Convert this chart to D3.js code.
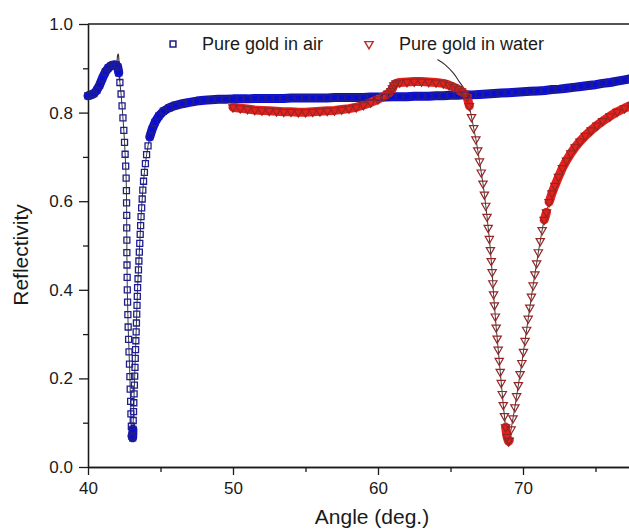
<html>
<head>
<meta charset="utf-8">
<script src="https://d3js.org/d3.v7.min.js"></script>
<style>
  body { margin: 0; background: #fff; }
  text { font-family: "Liberation Sans", Arial, sans-serif; fill: #1a1a1a; }
</style>
</head>
<body>
<script>
// reflectivity vs angle
const airData = [
  [40.0,0.838],[40.2,0.840],[40.4,0.843],[40.6,0.850],[40.8,0.862],[41.0,0.878],[41.2,0.892],
  [41.4,0.901],[41.6,0.906],[41.8,0.908],[41.95,0.907],[42.05,0.903],
  [42.12,0.890],[42.20,0.868],[42.28,0.842],[42.35,0.815],[42.41,0.788],[42.47,0.760],[42.52,0.733],
  [42.56,0.706],[42.60,0.679],[42.63,0.652],[42.65,0.624],[42.66,0.596],[42.67,0.568],[42.67,0.540],
  [42.68,0.512],[42.68,0.484],[42.69,0.456],[42.70,0.428],[42.71,0.400],[42.73,0.372],[42.75,0.344],
  [42.77,0.316],[42.80,0.288],[42.83,0.260],[42.86,0.232],[42.89,0.204],[42.91,0.176],[42.94,0.148],
  [42.96,0.120],[42.99,0.092],[43.03,0.070],
  [43.08,0.066],[43.10,0.085],[43.12,0.105],[43.14,0.125],[43.16,0.145],[43.18,0.165],[43.20,0.185],
  [43.22,0.205],[43.24,0.225],[43.26,0.245],[43.28,0.265],[43.30,0.285],[43.32,0.305],[43.34,0.325],
  [43.36,0.345],[43.38,0.365],[43.40,0.385],[43.42,0.405],[43.45,0.425],[43.48,0.445],[43.51,0.465],
  [43.54,0.485],[43.57,0.505],[43.60,0.525],[43.63,0.545],[43.66,0.565],[43.70,0.585],[43.74,0.605],
  [43.78,0.625],[43.83,0.645],[43.89,0.665],[43.96,0.685],[44.04,0.705],[44.14,0.725],[44.26,0.745],
  [44.42,0.762],[44.62,0.778],[44.88,0.792],[45.2,0.803],[45.6,0.811],[46.0,0.816],[46.5,0.820],
  [47.0,0.823],[47.5,0.826],[48.0,0.828],[48.5,0.829],[49.0,0.830],[49.5,0.830],
  [50,0.831],[50.5,0.831],[51,0.831],[51.5,0.832],[52,0.832],[52.5,0.832],[53,0.832],[53.5,0.832],
  [54,0.833],[54.5,0.833],[55,0.833],[55.5,0.833],[56,0.833],[56.5,0.833],[57,0.834],[57.5,0.834],
  [58,0.834],[58.5,0.834],[59,0.834],[59.5,0.835],[60,0.835],[60.5,0.835],[61,0.836],[61.5,0.836],
  [62,0.836],[62.5,0.837],[63,0.837],[63.5,0.837],[64,0.838],[64.5,0.838],[65,0.839],[65.5,0.839],
  [66,0.840],[66.5,0.840],[67,0.841],[67.5,0.842],[68,0.843],[68.5,0.844],[69,0.845],[69.5,0.846],
  [70,0.847],[70.5,0.848],[71,0.849],[71.5,0.850],[72,0.852],[72.5,0.853],[73,0.855],[73.5,0.857],
  [74,0.859],[74.5,0.861],[75,0.863],[75.5,0.866],[76,0.868],[76.5,0.871],[77,0.874],[77.5,0.877],
  [78,0.880]
];

const waterData = [
  [50.0,0.812],[50.5,0.810],[51.0,0.808],[51.5,0.806],[52.0,0.805],[52.5,0.804],[53.0,0.803],
  [53.5,0.802],[54.0,0.802],[54.5,0.801],[55.0,0.801],[55.5,0.802],[56.0,0.803],[56.5,0.804],
  [57.0,0.805],[57.5,0.807],[58.0,0.809],[58.5,0.812],[59.0,0.817],[59.5,0.823],[60.0,0.830],
  [60.4,0.837],[60.7,0.843],[60.9,0.849],[61.0,0.855],[61.1,0.862],[61.25,0.866],[61.5,0.868],
  [62.0,0.869],[62.5,0.870],[63.0,0.870],[63.5,0.869],[64.0,0.868],[64.5,0.866],[64.9,0.862],
  [65.2,0.858],[65.5,0.853],[65.75,0.848],[65.95,0.843],
  [66.15,0.835],[66.30,0.815],[66.45,0.790],[66.60,0.765],[66.75,0.740],[66.88,0.715],[67.00,0.690],
  [67.12,0.665],[67.24,0.640],[67.34,0.615],[67.43,0.590],[67.52,0.565],[67.60,0.540],[67.68,0.515],
  [67.75,0.490],[67.81,0.465],[67.87,0.440],[67.92,0.415],[67.97,0.390],[68.03,0.365],[68.09,0.340],
  [68.15,0.315],[68.22,0.290],[68.29,0.265],[68.36,0.240],[68.43,0.215],[68.50,0.190],[68.57,0.165],
  [68.64,0.140],[68.72,0.115],[68.80,0.090],[68.90,0.068],[69.00,0.058],
  [69.05,0.060],[69.18,0.085],[69.31,0.110],[69.44,0.135],[69.56,0.160],[69.68,0.185],[69.80,0.210],
  [69.92,0.235],[70.03,0.260],[70.14,0.285],[70.25,0.310],[70.36,0.335],[70.47,0.360],[70.58,0.385],
  [70.70,0.410],[70.82,0.435],[70.94,0.460],[71.06,0.485],[71.19,0.510],[71.32,0.535],[71.46,0.558],
  [71.62,0.575],[71.80,0.598],[72.00,0.618],[72.20,0.635],[72.45,0.655],[72.72,0.675],[73.00,0.692],
  [73.30,0.708],[73.60,0.722],[73.93,0.735],[74.30,0.748],[74.70,0.760],[75.10,0.771],[75.50,0.781],
  [76.00,0.792],[76.50,0.802],[77.00,0.810],[77.50,0.817],[78.00,0.823]
];

// thin dark fit curves that show outside the markers
const airFit = [[42.00,0.912],[42.05,0.930],[42.09,0.932],[42.14,0.912],[42.20,0.872]];
const waterFit = [[64.1,0.920],[64.6,0.909],[65.2,0.889],[65.6,0.870],[65.9,0.856],[66.15,0.838]];

const xMajor = [40, 50, 60, 70];
const xMinor = [45, 55, 65, 75];
const yMajor = [0, 0.2, 0.4, 0.6, 0.8, 1.0];
const yMinor = [0.1, 0.3, 0.5, 0.7, 0.9];
const seriesNames = ["Pure gold in air", "Pure gold in water"];

const w = 629, h = 530;
const x = d3.scaleLinear().domain([40, 80]).range([88, 668]);
const y = d3.scaleLinear().domain([0, 1]).range([467, 24]);

const svg = d3.select("body").append("svg")
  .attr("width", w).attr("height", h);

// axes
function styleAxis(g) {
  g.selectAll("path, line").attr("stroke", "#1a1a1a").attr("stroke-width", 1.3);
  g.selectAll("text").attr("font-size", 17).style("fill", "#1a1a1a");
}

svg.append("g").attr("transform", "translate(0,467)")
  .call(d3.axisBottom(x).tickValues(xMajor).tickSize(8).tickSizeOuter(0).tickPadding(7).tickFormat(d3.format("d")))
  .call(styleAxis);
svg.append("g").attr("transform", "translate(0,467)")
  .call(d3.axisBottom(x).tickValues(xMinor).tickSize(5).tickSizeOuter(0).tickFormat(""))
  .call(styleAxis);
svg.append("g").attr("transform", "translate(88,0)")
  .call(d3.axisLeft(y).tickValues(yMajor).tickSize(9).tickSizeOuter(0).tickPadding(6).tickFormat(d3.format(".1f")))
  .call(styleAxis);
svg.append("g").attr("transform", "translate(88,0)")
  .call(d3.axisLeft(y).tickValues(yMinor).tickSize(5).tickSizeOuter(0).tickFormat(""))
  .call(styleAxis);

// top frame
svg.append("line")
  .attr("x1", x(40)).attr("x2", x(80)).attr("y1", y(1)).attr("y2", y(1))
  .attr("stroke", "#1a1a1a").attr("stroke-width", 1.5);

// axis titles
svg.append("text").attr("x", 372).attr("y", 524).attr("text-anchor", "middle")
  .attr("font-size", 21).text("Angle (deg.)");
svg.append("text").attr("transform", "translate(28,255) rotate(-90)")
  .attr("text-anchor", "middle").attr("font-size", 21).text("Reflectivity");

const line = d3.line().x(d => x(d[0])).y(d => y(d[1]));
const smooth = d3.line().x(d => x(d[0])).y(d => y(d[1])).curve(d3.curveCatmullRom);

// split into runs where markers sit so close they merge into a band
function runs(data, gap) {
  const out = [];
  let cur = [data[0]];
  for (let i = 1; i < data.length; i++) {
    const a = data[i - 1], b = data[i];
    const d = Math.hypot(x(b[0]) - x(a[0]), y(b[1]) - y(a[1]));
    if (d < gap) cur.push(b);
    else { if (cur.length > 1) out.push(cur); cur = [b]; }
  }
  if (cur.length > 1) out.push(cur);
  return out;
}

const plot = svg.append("g");

// thin connecting lines
[airData, waterData].forEach(data => {
  plot.append("path").datum(data).attr("d", line)
    .attr("fill", "none").attr("stroke", "#222").attr("stroke-width", 0.9);
});
[airFit, waterFit].forEach(data => {
  plot.append("path").datum(data).attr("d", smooth)
    .attr("fill", "none").attr("stroke", "#3a2a2a").attr("stroke-width", 1.1);
});

// bands
plot.selectAll(".bandAir").data(runs(airData, 8.5)).enter().append("path")
  .attr("d", line).attr("fill", "none").attr("stroke", "#0b0bd8")
  .attr("stroke-width", 9).attr("stroke-linecap", "round").attr("stroke-linejoin", "round");
plot.selectAll(".bandWater").data(runs(waterData, 10)).enter().append("path")
  .attr("d", line).attr("fill", "none").attr("stroke", "#e6201a")
  .attr("stroke-width", 9).attr("stroke-linecap", "round").attr("stroke-linejoin", "round");

// markers
const sq = d3.symbol().type(d3.symbolSquare).size(36);
const tri = d3.symbol().type(d3.symbolTriangle).size(30);

plot.selectAll(".sq").data(airData).enter().append("path")
  .attr("d", sq)
  .attr("transform", d => `translate(${x(d[0])},${y(d[1])})`)
  .attr("fill", "none").attr("stroke", "#1e1e90").attr("stroke-width", 1.3);

plot.selectAll(".tri").data(waterData).enter().append("path")
  .attr("d", tri)
  .attr("transform", d => `translate(${x(d[0])},${y(d[1])}) rotate(180)`)
  .attr("fill", "none").attr("stroke", "#962626").attr("stroke-width", 1.2);

// legend
const legend = svg.append("g");
legend.append("path").attr("d", d3.symbol().type(d3.symbolSquare).size(34))
  .attr("transform", "translate(173,44)")
  .attr("fill", "none").attr("stroke", "#1c1c80").attr("stroke-width", 1.5);
legend.append("text").attr("x", 202).attr("y", 50).attr("font-size", 18).text(seriesNames[0]);
legend.append("path").attr("d", d3.symbol().type(d3.symbolTriangle).size(30))
  .attr("transform", "translate(369,44) rotate(180)")
  .attr("fill", "none").attr("stroke", "#c02a2a").attr("stroke-width", 1.4);
legend.append("text").attr("x", 399).attr("y", 50).attr("font-size", 18).text(seriesNames[1]);
</script>
</body>
</html>
